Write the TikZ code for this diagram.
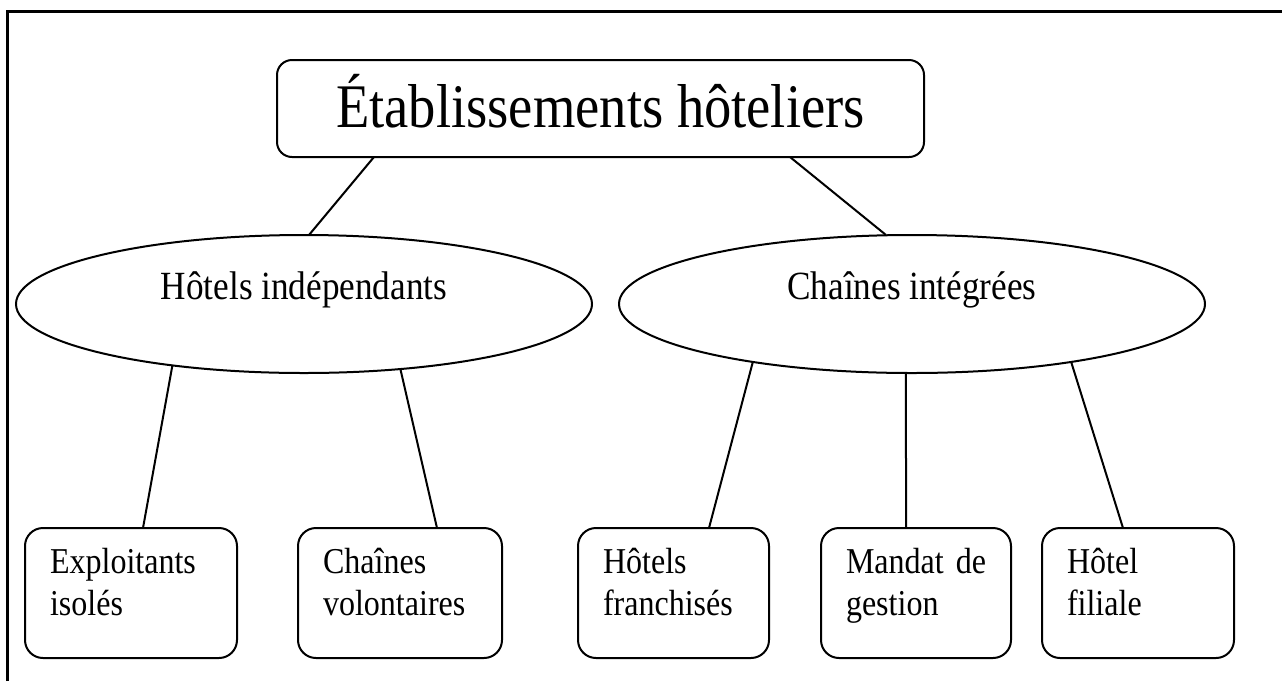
\documentclass[tikz,border=0pt]{standalone}
\usepackage{fontspec}
\setmainfont{Liberation Serif}
% slightly condensed serif, as set in the diagram
\newfontfamily\narrowserif{Liberation Serif}[FakeStretch=0.88]
\usetikzlibrary{shapes.geometric}

\begin{document}
\begin{tikzpicture}[x=1pt,y=-1pt,
  every node/.style={outer sep=0pt},
  topbox/.style={draw, line width=2pt, rounded corners=15pt,
    minimum width=647pt, minimum height=97pt, inner sep=0pt,
    font=\narrowserif\fontsize{62}{70}\selectfont, text height=37pt, text depth=0pt},
  group/.style={draw, ellipse, line width=2pt, minimum width=#1,
    minimum height=138pt, inner sep=0pt,
    font=\narrowserif\fontsize{40}{46}\selectfont, text height=26pt, text depth=36pt},
  leaf/.style={draw, line width=2pt, rounded corners=18pt,
    text width=#1, inner xsep=25pt, inner ysep=0pt, minimum height=130pt,
    align=left, font=\narrowserif\fontsize{36.4}{42}\selectfont,
    text height=24pt, text depth=64pt},
  link/.style={line width=2pt},
  frame/.style={line width=3pt}
]
\useasboundingbox (0,0) rectangle (1282,681);

% page frame (only its left and top sides fall inside the picture)
\draw[frame] (7,681) -- (7,11) -- (1282,11);

% root
\node[topbox] (top) at (600.5,108.5) {Établissements hôteliers};

% the two families
\node[group=576pt] (L) at (304,304) {Hôtels indépendants};
\node[group=586pt] (R) at (912,304) {Chaînes intégrées};

% leaves (text width = box width - 50); each line kept whole
\node[leaf=162pt] (b1) at (131,593)   {\mbox{Exploitants}\\\mbox{isolés}};
\node[leaf=154pt] (b2) at (400,593)   {\mbox{Chaînes}\\\mbox{volontaires}};
\node[leaf=141pt] (b3) at (673.5,593) {\mbox{Hôtels}\\\mbox{franchisés}};
\node[leaf=140pt] (b4) at (916,593)   {\mbox{Mandat de}\\\mbox{gestion}};
\node[leaf=142pt] (b5) at (1138,593)  {\mbox{Hôtel}\\\mbox{filiale}};

% connectors
\draw[link] ([xshift=-226.5]top.south) -- ([xshift=5]L.north);
\draw[link] ([xshift=189.5]top.south) -- ([xshift=-26]R.north);
\draw[link] (L.205) -- ([xshift=12]b1.north);
\draw[link] (L.326) -- ([xshift=37]b2.north);
\draw[link] (R.200) -- ([xshift=35.5]b3.north);
\draw[link] (R.265) -- ([xshift=-10]b4.north);
\draw[link] (R.340) -- ([xshift=-15]b5.north);
\end{tikzpicture}
\end{document}
